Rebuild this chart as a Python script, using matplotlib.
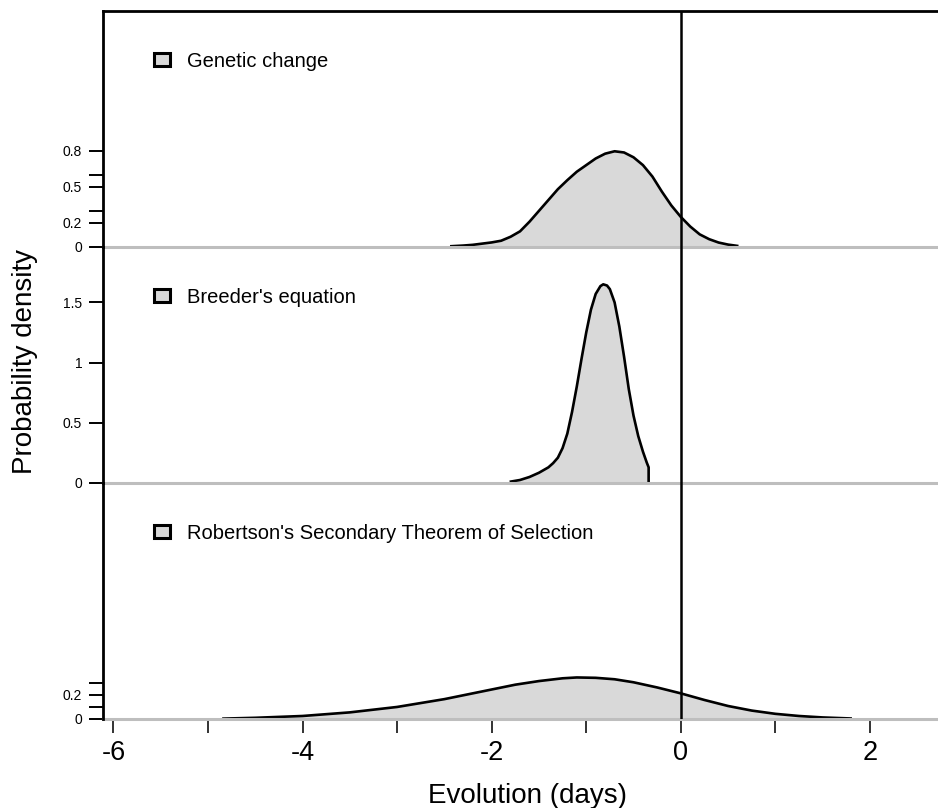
import matplotlib
matplotlib.use('Agg')
import matplotlib.pyplot as plt
from matplotlib.patches import Patch

plt.rcParams['font.family'] = ['Liberation Sans', 'DejaVu Sans']

# Density curves (x in days, y = density)
genetic_x = [-2.44, -2.3, -2.2, -2.1, -2.0, -1.9, -1.8, -1.7, -1.6, -1.5, -1.4, -1.3,
             -1.2, -1.1, -1.0, -0.9, -0.8, -0.7, -0.6, -0.5, -0.4, -0.3, -0.2, -0.1,
             0.0, 0.1, 0.2, 0.3, 0.4, 0.5, 0.61]
genetic_y = [0.006, 0.012, 0.018, 0.028, 0.038, 0.052, 0.085, 0.13, 0.21, 0.30, 0.39, 0.48,
             0.555, 0.625, 0.68, 0.735, 0.775, 0.795, 0.785, 0.745, 0.68, 0.585, 0.46, 0.345,
             0.25, 0.17, 0.105, 0.065, 0.037, 0.02, 0.008]

breeder_x = [-1.81, -1.7, -1.6, -1.5, -1.4, -1.35, -1.3, -1.25, -1.2, -1.15, -1.1, -1.05,
             -1.0, -0.95, -0.9, -0.85, -0.82, -0.78, -0.75, -0.7, -0.65, -0.6, -0.55,
             -0.5, -0.45, -0.4, -0.36, -0.34, -0.34]
breeder_y = [0.01, 0.025, 0.05, 0.085, 0.13, 0.165, 0.21, 0.29, 0.41, 0.59, 0.80, 1.03,
             1.25, 1.44, 1.57, 1.635, 1.65, 1.64, 1.61, 1.50, 1.30, 1.05, 0.78,
             0.56, 0.39, 0.26, 0.17, 0.13, 0.0]

robertson_x = [-4.85, -4.5, -4.0, -3.5, -3.0, -2.5, -2.0, -1.75, -1.5, -1.25, -1.1, -0.9,
               -0.7, -0.5, -0.25, 0.0, 0.25, 0.5, 0.75, 1.0, 1.25, 1.5, 1.81]
robertson_y = [0.003, 0.01, 0.025, 0.055, 0.10, 0.165, 0.245, 0.285, 0.315, 0.338, 0.345, 0.342,
               0.33, 0.305, 0.262, 0.213, 0.158, 0.108, 0.07, 0.043, 0.025, 0.013, 0.004]

panel_names = ['Genetic change', "Breeder's equation",
               "Robertson's Secondary Theorem of Selection"]
panel_x = [genetic_x, breeder_x, robertson_x]
panel_y = [genetic_y, breeder_y, robertson_y]

# y ticks per panel, labels as shown (some ticks unlabeled)
ytick_vals = [[0, 0.2, 0.3, 0.5, 0.6, 0.8], [0, 0.5, 1, 1.5], [0, 0.1, 0.2, 0.3]]
ytick_labels = [['0', '0.2', '', '0.5', '', '0.8'], ['0', '0.5', '1', '1.5'],
                ['0', '', '0.2', '']]

xtick_vals = [-6, -5, -4, -3, -2, -1, 0, 1, 2]
xtick_labels = ['-6', '', '-4', '', '-2', '', '0', '', '2']

fill_col = '#d9d9d9'
base_col = '#bebebe'

fig = plt.figure(figsize=(9.38, 8.08), dpi=100)
gs = fig.add_gridspec(3, 1, left=103 / 938, right=1.0, top=1 - 11 / 808,
                      bottom=1 - 719 / 808, hspace=0)

for i in range(3):
    ax = fig.add_subplot(gs[i])
    ax.patch.set_visible(False)
    xs, ys = panel_x[i], panel_y[i]
    ax.fill_between(xs, ys, 0, color=fill_col, lw=0, zorder=1)
    ax.plot(xs, ys, color='black', lw=1.9, zorder=2, solid_capstyle='butt',
            solid_joinstyle='round')
    ax.axvline(0, color='black', lw=1.8, zorder=4)
    ax.axhline(0, color=base_col, lw=2.2, zorder=3, clip_on=False)

    ax.set_xlim(-6.11, 2.72)
    ax.set_ylim(0, 1.96)

    for s in ['right', 'bottom']:
        ax.spines[s].set_visible(False)
    ax.spines['left'].set_linewidth(2.0)
    ax.spines['left'].set_zorder(5)
    if i == 0:
        ax.spines['top'].set_linewidth(2.0)
    else:
        ax.spines['top'].set_visible(False)

    ax.set_yticks(ytick_vals[i])
    ax.set_yticklabels(ytick_labels[i])
    ax.tick_params(axis='y', length=10, width=1.4, labelsize=10, pad=5, color='black')

    if i == 2:
        ax.set_xticks(xtick_vals)
        ax.set_xticklabels(xtick_labels)
        ax.tick_params(axis='x', length=10, width=1.4, labelsize=19.5, pad=5,
                       color='#333333')
    else:
        ax.set_xticks([])

    handle = Patch(facecolor=fill_col, edgecolor='black', linewidth=2.2)
    ax.legend(handles=[handle], labels=[panel_names[i]], loc='center left',
              bbox_to_anchor=(0.061, 0.787), frameon=False, fontsize=14.5,
              borderpad=0, borderaxespad=0, handlelength=0.8, handleheight=0.65,
              handletextpad=0.85)

fig.text(25 / 938, 1 - 362 / 808, 'Probability density', rotation=90,
         ha='center', va='center', fontsize=20)
fig.text(527 / 938, 1 - 796 / 808, 'Evolution (days)', ha='center', va='center',
         fontsize=20)

fig.savefig('out.png', dpi=100)
